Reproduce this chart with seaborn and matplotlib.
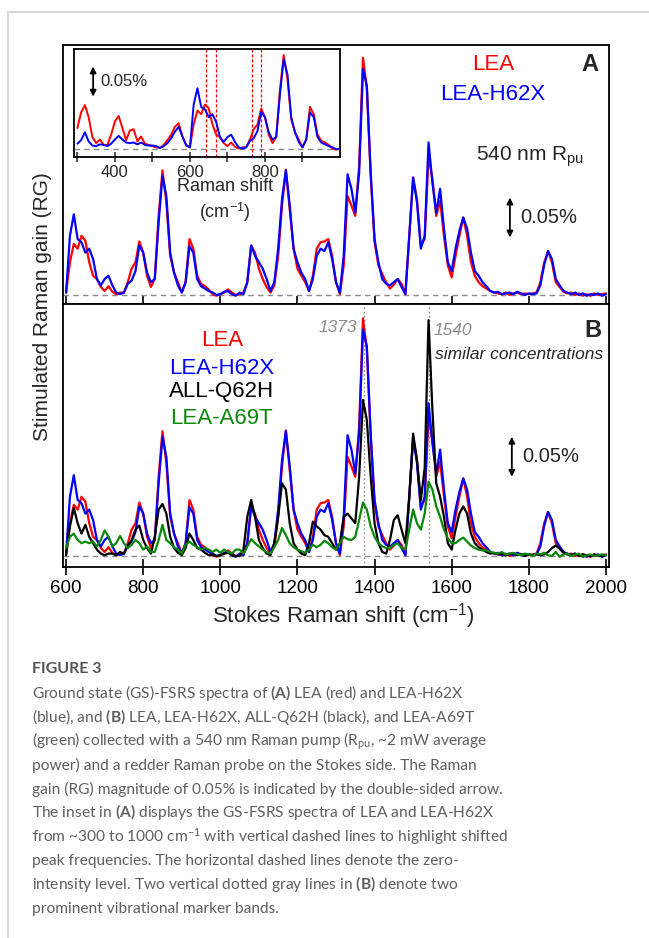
"""plot.py - GS-FSRS spectra of LEA variants (Figure 3 style)"""
import numpy as np
import matplotlib
matplotlib.use("Agg")
import matplotlib.pyplot as plt
from matplotlib.lines import Line2D
import seaborn as sns

# Raman gain values in units of 0.001 % (so 50 == the 0.05 % arrow)
WAVENUMBER = np.arange(600, 2001, 10)

LEA = [3, 41, 64, 58, 74, 68, 41, 24, 20, 10,
       5, 11, 4, 1, 3, 3, 16, 33, 41, 67,
       53, 24, 10, 20, 99, 156, 116, 49, 28, 16,
       3, 16, 70, 58, 24, 14, 11, 7, 1, -1,
       1, 3, 7, 3, 0, 1, 3, 16, 62, 53,
       33, 20, 10, 3, 12, 49, 112, 157, 108, 58,
       33, 24, 16, 5, 24, 58, 66, 67, 70, 49,
       16, 1, 37, 124, 112, 99, 162, 297, 258, 149,
       66, 37, 26, 16, 8, 13, 20, 14, 1, 74,
       147, 120, 62, 70, 174, 145, 99, 118, 74, 37,
       22, 49, 74, 97, 74, 41, 24, 16, 11, 8,
       5, 3, 2, 1, 3, 0, 2, 3, 1, 2,
       1, 2, 3, 16, 41, 55, 41, 16, 10, 4,
       2, 3, 0, 2, -1, 1, -1, 2, 0, 1,
       2]

LEA_H62X = [3, 74, 101, 70, 66, 53, 58, 45, 20, 12,
            20, 24, 12, 3, 1, 3, 14, 18, 30, 62,
            53, 28, 16, 20, 91, 149, 124, 53, 28, 12,
            3, 16, 61, 53, 20, 11, 8, 5, 3, 0,
            1, 4, 5, 1, -1, 3, 1, 16, 62, 49,
            41, 33, 20, 5, 16, 58, 120, 156, 112, 58,
            41, 28, 20, 5, 20, 49, 58, 55, 66, 45,
            16, 3, 49, 151, 133, 103, 153, 283, 262, 153,
            70, 41, 20, 14, 12, 16, 20, 10, 1, 74,
            147, 116, 58, 74, 191, 141, 103, 133, 83, 41,
            30, 58, 80, 97, 83, 53, 30, 24, 16, 11,
            5, 3, 4, 1, 2, 3, 1, 4, 2, 0,
            2, 1, 2, 12, 38, 55, 45, 20, 12, 5,
            3, 1, 3, 0, 2, -1, 1, 0, 2, -1,
            1]

ALL_Q62H = [1, 37, 60, 41, 28, 39, 24, 16, 8, 3,
            1, 3, 3, 1, 5, 3, 12, 20, 33, 38,
            20, 10, 3, 24, 58, 65, 53, 24, 10, 4,
            1, 10, 28, 20, 10, 8, 4, 1, 2, 0,
            1, 3, 4, 1, 0, 0, 8, 49, 70, 49,
            20, 10, 3, 1, 16, 49, 91, 83, 41, 16,
            8, 3, 1, 16, 43, 37, 33, 26, 24, 16,
            8, 16, 49, 53, 47, 41, 99, 195, 170, 99,
            41, 16, 5, 3, 20, 45, 51, 33, 16, 74,
            153, 120, 70, 110, 295, 183, 91, 74, 49, 16,
            8, 33, 53, 62, 53, 28, 16, 11, 8, 5,
            3, 4, 2, 3, 1, 2, 3, 1, 2, 0,
            2, 1, 2, 1, 2, 5, 10, 13, 9, 4,
            2, 1, 3, 0, 2, 1, 0, 2, 1, 0,
            1]

LEA_A69T = [10, 24, 28, 20, 16, 18, 16, 18, 12, 20,
            32, 24, 12, 16, 25, 16, 10, 14, 20, 16,
            8, 12, 5, 5, 20, 39, 20, 16, 11, 8,
            3, 14, 18, 14, 11, 8, 10, 8, 5, 8,
            4, 8, 5, 3, 8, 8, 3, 12, 21, 16,
            12, 8, 5, 3, 11, 20, 35, 26, 16, 11,
            8, 6, 4, 8, 14, 11, 14, 19, 16, 11,
            8, 16, 24, 21, 20, 24, 45, 67, 58, 37,
            24, 16, 12, 10, 10, 14, 16, 10, 8, 33,
            58, 41, 33, 53, 93, 83, 62, 49, 33, 22,
            16, 16, 20, 23, 18, 13, 10, 8, 7, 7,
            5, 4, 3, 5, 2, 3, 4, 2, 1, 3,
            2, 0, 3, 2, 4, 1, 0, 5, -1, 2,
            3, 0, 2, 3, -1, 1, 2, 0, 1, 2,
            1]

# low-frequency part shown only in the inset (300-590 cm-1)
INSET_LOW = np.arange(300, 600, 10)
LEA_LOW = [35, 61, 73, 53, 20, 10, 16, 7, 7, 24, 46, 55, 35, 15, 31,
           33, 13, 21, 9, 7, 5, 3, 2, 7, 15, 24, 37, 43, 21, 7]
LEA_H62X_LOW = [9, 15, 28, 13, 6, 5, 8, 7, 5, 9, 16, 22, 16, 11, 10,
                11, 8, 11, 7, 6, 6, 5, 2, 5, 10, 18, 29, 37, 21, 6]

SHIFTED_PEAKS = [642, 669, 765, 789]
MARKER_BANDS = [1373, 1540]

COLORS = {"LEA": "#ff0000", "LEA-H62X": "#0000ff",
          "ALL-Q62H": "#000000", "LEA-A69T": "#0a870a"}

sns.set_theme(style="ticks")
plt.rcParams["font.family"] = ["Liberation Sans", "DejaVu Sans"]
plt.rcParams["mathtext.fontset"] = "custom"
plt.rcParams["mathtext.rm"] = "Lato"
plt.rcParams["mathtext.bf"] = "Lato:bold"
plt.rcParams["mathtext.it"] = "Lato:italic"
plt.rcParams["lines.solid_joinstyle"] = "round"

W, H = 649, 938
fig = plt.figure(figsize=(W / 100, H / 100), dpi=100)
fig.patch.set_facecolor("white")


def fx(px):
    return px / W


def fy(py):
    return 1 - py / H


def style_axis(ax, labels=True):
    for s in ax.spines.values():
        s.set_linewidth(1.3)
        s.set_color("black")
    ax.set_yticks([])
    ax.set_xticks(range(600, 2001, 200))
    ax.tick_params(axis="x", direction="inout", length=11, width=1.2,
                   labelsize=13.5, labelbottom=labels, pad=4, colors="black")
    ax.set_xlim(592, 2008)
    ax.set_xlabel("")
    ax.set_ylabel("")


def zero_line(ax):
    ax.axhline(0, color="#8c8c8c", lw=1.0, ls=(0, (4, 3)), zorder=1)


def gain_arrow(ax, x, y0, y1, tx, size):
    ax.annotate("", xy=(x, y1), xytext=(x, y0),
                arrowprops=dict(arrowstyle="<|-|>", color="black", lw=1.3,
                                shrinkA=0, shrinkB=0, mutation_scale=9))
    ax.text(tx, (y0 + y1) / 2, "0.05%", fontsize=size, va="center", ha="left")


# ---- panel A ----
ax_a = fig.add_axes([fx(63), fy(304), fx(546), fy(45) - fy(304)])
zero_line(ax_a)
for name, vals in [("LEA", LEA), ("LEA-H62X", LEA_H62X)]:
    sns.lineplot(x=WAVENUMBER, y=vals, ax=ax_a, color=COLORS[name],
                 lw=1.6, estimator=None, sort=False, zorder=3)
style_axis(ax_a, labels=False)
ax_a.set_ylim(-11.3, 313)
ax_a.text(1707, 288, "LEA", color=COLORS["LEA"], fontsize=16, ha="center", va="center")
ax_a.text(1707, 251, "LEA-H62X", color=COLORS["LEA-H62X"], fontsize=16, ha="center", va="center")
ax_a.text(1958, 289, "A", fontsize=17, fontweight="bold", ha="center", va="center")
ax_a.text(1663, 173, r"540 nm R$_{\mathregular{pu}}$", fontsize=15, ha="left", va="center")
gain_arrow(ax_a, 1751, 72, 122, 1777, 14.5)

# ---- inset ----
ax_in = fig.add_axes([fx(74), fy(157), fx(266), fy(49) - fy(157)], zorder=5)
inset_x = np.concatenate([INSET_LOW, WAVENUMBER[:41]])
zero_line(ax_in)
for x0 in SHIFTED_PEAKS:
    ax_in.axvline(x0, color="#ff0000", lw=0.9, ls=(0, (2.5, 1.5)), zorder=2)
for name, low, vals in [("LEA", LEA_LOW, LEA), ("LEA-H62X", LEA_H62X_LOW, LEA_H62X)]:
    sns.lineplot(x=inset_x, y=list(low) + list(vals[:41]), ax=ax_in,
                 color=COLORS[name], lw=1.4, estimator=None, sort=False, zorder=3)
for s in ax_in.spines.values():
    s.set_linewidth(1.3)
    s.set_color("black")
ax_in.set_xlim(291, 1000)
ax_in.set_ylim(-13, 166)
ax_in.set_yticks([])
ax_in.set_xticks([400, 600, 800])
ax_in.set_xticks([300, 500, 700, 900], minor=True)
ax_in.tick_params(axis="x", which="both", direction="inout", length=7, width=1.1,
                  labelsize=12, pad=2)
ax_in.set_xlabel("")
ax_in.set_ylabel("")
fig.text(fx(225), fy(201), "Raman shift\n" r"(cm$^{\mathregular{-1}}$)", fontsize=13,
         ha="center", va="center", linespacing=1.35)
gain_arrow(ax_in, 342, 87, 137, 360, 12)

# ---- panel B ----
ax_b = fig.add_axes([fx(63), fy(567), fx(546), fy(304) - fy(567)])
zero_line(ax_b)
for x0 in MARKER_BANDS:
    ax_b.axvline(x0, color="#8c8c8c", lw=1.0, ls=(0, (1.2, 1.8)), zorder=1)
for name, vals in [("LEA", LEA), ("LEA-H62X", LEA_H62X),
                   ("ALL-Q62H", ALL_Q62H), ("LEA-A69T", LEA_A69T)]:
    sns.lineplot(x=WAVENUMBER, y=vals, ax=ax_b, color=COLORS[name],
                 lw=1.6, estimator=None, sort=False, zorder=3)
style_axis(ax_b, labels=True)
ax_b.set_ylim(-13.75, 315)
for label, yv in [("LEA", 270), ("LEA-H62X", 235), ("ALL-Q62H", 205), ("LEA-A69T", 172)]:
    ax_b.text(1004, yv, label, color=COLORS[label], fontsize=16, ha="center", va="center")
ax_b.text(1354, 285, "1373", color="#8c8c8c", fontsize=12.5, style="italic",
          ha="right", va="center")
ax_b.text(1552, 282, "1540", color="#8c8c8c", fontsize=12.5, style="italic",
          ha="left", va="center")
ax_b.text(1992, 252, "similar concentrations", fontsize=12.5, style="italic",
          ha="right", va="center")
ax_b.text(1966, 282, "B", fontsize=17, fontweight="bold", ha="center", va="center")
gain_arrow(ax_b, 1756, 99, 149, 1782, 14.5)

# shared axis labels
fig.text(fx(43), fy(307), "Stimulated Raman gain (RG)", rotation=90,
         fontsize=15, ha="center", va="center")
fig.text(fx(343), fy(617), r"Stokes Raman shift (cm$^{\mathregular{-1}}$)",
         fontsize=16, ha="center", va="center")

# card frame
fig.add_artist(Line2D([fx(8), 1], [fy(12), fy(12)], color="#dadada", lw=1.5))
fig.add_artist(Line2D([fx(8), fx(8)], [fy(12), 0], color="#dadada", lw=1.5))

# caption
cap_color = "#5f5f5f"
fig.text(fx(32), fy(673), "FIGURE 3", fontsize=11.5, fontweight="bold",
         family="Lato", color="#555555", va="baseline")
caption = [
    r"Ground state (GS)-FSRS spectra of $\mathbf{(A)}$ LEA (red) and LEA-H62X",
    r"(blue), and $\mathbf{(B)}$ LEA, LEA-H62X, ALL-Q62H (black), and LEA-A69T",
    r"(green) collected with a 540 nm Raman pump (R$_{\mathregular{pu}}$, ~2 mW average",
    "power) and a redder Raman probe on the Stokes side. The Raman",
    "gain (RG) magnitude of 0.05% is indicated by the double-sided arrow.",
    r"The inset in $\mathbf{(A)}$ displays the GS-FSRS spectra of LEA and LEA-H62X",
    r"from ~300 to 1000 cm$^{\mathregular{-1}}$ with vertical dashed lines to highlight shifted",
    "peak frequencies. The horizontal dashed lines denote the zero-",
    r"intensity level. Two vertical dotted gray lines in $\mathbf{(B)}$ denote two",
    "prominent vibrational marker bands.",
]
for i, line in enumerate(caption):
    fig.text(fx(32), fy(698 + i * 23.9), line, fontsize=11.2, family="Lato",
             color=cap_color, va="baseline")

fig.savefig("out.png", dpi=100, facecolor="white")
